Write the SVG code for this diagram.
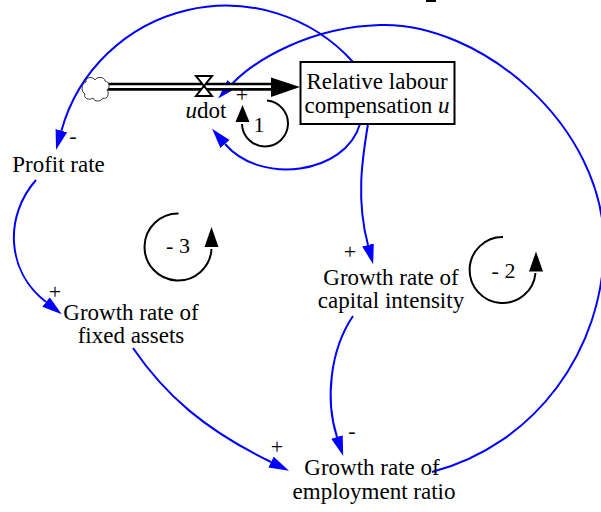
<svg xmlns="http://www.w3.org/2000/svg" width="601" height="512" viewBox="0 0 601 512">
<defs>
<style>
text{font-family:"Liberation Serif","Times New Roman",serif;fill:#000}
.lbl{font-size:23px;text-anchor:middle}
.sgn{font-size:22px;text-anchor:middle}
.link{fill:none;stroke:#0000ff;stroke-width:2}
.loop{fill:none;stroke:#000;stroke-width:2}
</style>
<marker id="ab" markerUnits="userSpaceOnUse" markerWidth="22" markerHeight="14" viewBox="0 0 22 14" refX="0" refY="6" orient="auto">
<path d="M0,0 L20,6 L0,12 Z" fill="#0000ff"/>
</marker>
</defs>
<rect width="601" height="512" fill="#fff"/>
<rect x="426" y="0" width="10" height="2" fill="#000"/>

<g id="connectors">
<path class="link" d="M353,62 A171,171 0 0 0 61.4,130.7" marker-end="url(#ab)"/>
<path class="link" d="M432,472 C535,445 604,350 604,245 C604,125 480,22 380,25 C310,27 255,60 232,84" marker-end="url(#ab)"/>
<path class="link" d="M360,124 C345,175 260,185 225,144" marker-end="url(#ab)"/>
<path class="link" d="M368,124 C362,160 356,200 368,245" marker-end="url(#ab)"/>
<path class="link" d="M36,180 C5,215 5,270 46,302" marker-end="url(#ab)"/>
<path class="link" d="M133,348 C165,395 205,430 271,462" marker-end="url(#ab)"/>
<path class="link" d="M353,316 C330,350 325,400 337,437" marker-end="url(#ab)"/>
<text class="sgn" x="73" y="143">-</text>
<text class="sgn" x="55" y="298.5">+</text>
<text class="sgn" x="350" y="258.5">+</text>
<text class="sgn" x="277" y="453.5">+</text>
<text class="sgn" x="352" y="438">-</text>
<text class="sgn" x="242" y="102">+</text>
</g>

<g id="flow-udot">
<line x1="108" y1="86.7" x2="273" y2="86.7" stroke="#000" stroke-width="8"/>
<line x1="108" y1="86.7" x2="274" y2="86.7" stroke="#fff" stroke-width="2.8"/>
<polygon points="271,77.5 300,87 271,97" fill="#000"/>
<path d="M86,82 C85,77 93,76 95,80 C97,76 105,77 105,81 C110,82 110,88 107,90 C110,94 107,100 103,98 C101,102 94,102 93,98 C89,101 83,98 85,94 C81,92 81,84 86,82 Z" fill="#fff" stroke="#333" stroke-width="1"/>
<path d="M196,76 L212,76 L196,96 L212,96 Z" fill="#fff" stroke="#000" stroke-width="2" stroke-linejoin="miter"/>
<text class="lbl" x="206" y="118"><tspan font-style="italic">u</tspan>dot</text>
</g>

<g id="node-u">
<rect x="300.5" y="62" width="154" height="62" fill="#fff" stroke="#000" stroke-width="2"/>
<text class="lbl" x="377" y="89">Relative labour</text>
<text class="lbl" x="377" y="113">compensation <tspan font-style="italic">u</tspan></text>
</g>

<g id="node-profit">
<text class="lbl" x="58.5" y="172">Profit rate</text>
</g>

<g id="node-fixed">
<text class="lbl" x="131" y="320">Growth rate of</text>
<text class="lbl" x="131" y="343">fixed assets</text>
</g>

<g id="node-capital">
<text class="lbl" x="391" y="285">Growth rate of</text>
<text class="lbl" x="391" y="308">capital intensity</text>
</g>

<g id="node-employment">
<text class="lbl" x="372" y="475">Growth rate of</text>
<text class="lbl" x="374" y="499">employment ratio</text>
</g>

<g id="loop-1">
<path class="loop" d="M267,100.5 A23,23 0 1 1 242,124"/>
<polygon points="235.5,122 249.5,122 242.5,105" fill="#000"/>
<text class="sgn" x="259" y="132">1</text>
</g>

<g id="loop-3">
<path class="loop" d="M178.5,213.5 A33.5,33.5 0 1 0 211.5,249"/>
<polygon points="204.5,247 218.5,247 211.5,227" fill="#000"/>
<text class="sgn" x="178" y="253">- 3</text>
</g>

<g id="loop-2">
<path class="loop" d="M503,237 A33,33 0 1 0 535.5,273"/>
<polygon points="529,271.5 543,271.5 536,251.5" fill="#000"/>
<text class="sgn" x="503.5" y="278">- 2</text>
</g>
</svg>
